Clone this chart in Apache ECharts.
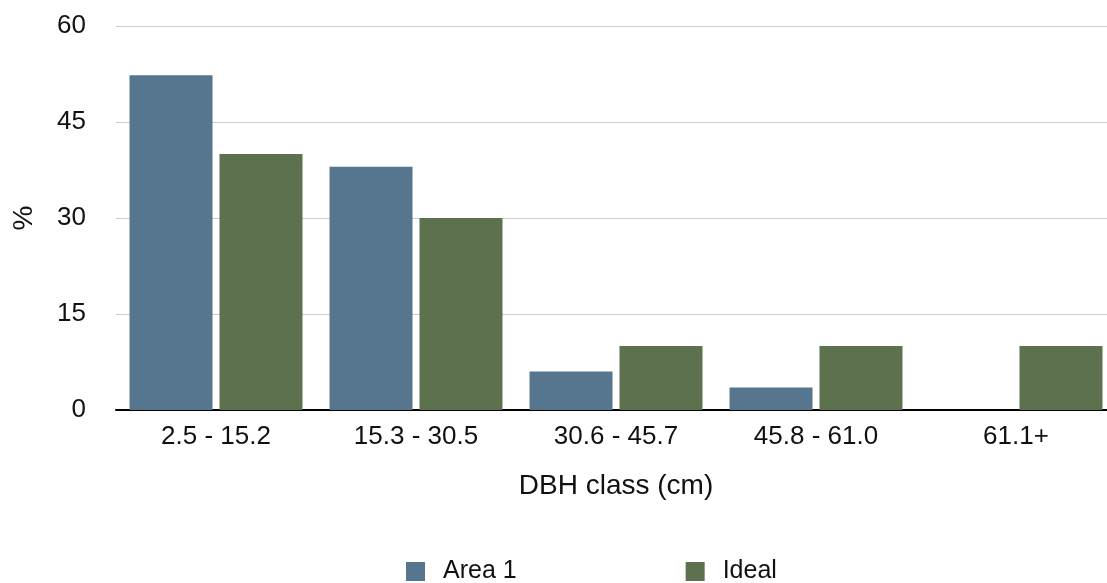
<!DOCTYPE html>
<html>
<head>
<meta charset="utf-8">
<title>DBH class distribution</title>
<script src="https://cdn.jsdelivr.net/npm/echarts@6/dist/echarts.min.js"></script>
<style>
  html, body { margin: 0; padding: 0; background: #ffffff; }
  #chart { width: 1107px; height: 583px; }
</style>
</head>
<body>
<div id="chart"></div>
<script>
// DBH classes and share of stems (%) per class
const categories = ['2.5 - 15.2', '15.3 - 30.5', '30.6 - 45.7', '45.8 - 61.0', '61.1+'];
const area1Values = [52.3, 38, 6, 3.5, 0];
const idealValues = [40, 30, 10, 10, 10];
const yTicks = { min: 0, max: 60, interval: 15 };

const FONT = '"Liberation Sans", Arial, Helvetica, sans-serif';
const chart = echarts.init(document.getElementById('chart'), null, { renderer: 'canvas' });

chart.setOption({
  animation: false,
  backgroundColor: '#ffffff',
  grid: { left: 116, top: 26, width: 1000, height: 384, containLabel: false, outerBoundsMode: 'none' },
  legend: {
    left: 401,
    top: 554,
    itemWidth: 19,
    itemHeight: 19,
    itemGap: 169,
    icon: 'rect',
    textStyle: { fontFamily: FONT, fontSize: 25, color: '#111111', padding: [0, 0, 0, 13] },
    data: ['Area 1', 'Ideal']
  },
  xAxis: {
    type: 'category',
    data: categories,
    name: 'DBH class (cm)',
    nameLocation: 'middle',
    nameGap: 62,
    nameTextStyle: { fontFamily: FONT, fontSize: 28, color: '#111111' },
    axisLine: { show: true, lineStyle: { color: '#000000', width: 2 } },
    axisTick: { show: false },
    axisLabel: { fontFamily: FONT, fontSize: 26, color: '#111111', margin: 14 },
    splitLine: { show: false }
  },
  yAxis: {
    type: 'value',
    min: yTicks.min,
    max: yTicks.max,
    interval: yTicks.interval,
    name: '%',
    nameLocation: 'middle',
    nameGap: 78,
    nameTextStyle: { fontFamily: FONT, fontSize: 28, color: '#111111' },
    axisLine: { show: false },
    axisTick: { show: false },
    axisLabel: { fontFamily: FONT, fontSize: 26, color: '#111111', margin: 30 },
    splitLine: { show: true, lineStyle: { color: '#cccccc', width: 1 } }
  },
  series: [
    {
      name: 'Area 1',
      type: 'bar',
      data: area1Values,
      barWidth: 83,
      barGap: '8.4%',
      itemStyle: { color: '#56758f' }
    },
    {
      name: 'Ideal',
      type: 'bar',
      data: idealValues,
      barWidth: 83,
      barGap: '8.4%',
      itemStyle: { color: '#5d714f' }
    }
  ]
});
</script>
</body>
</html>
